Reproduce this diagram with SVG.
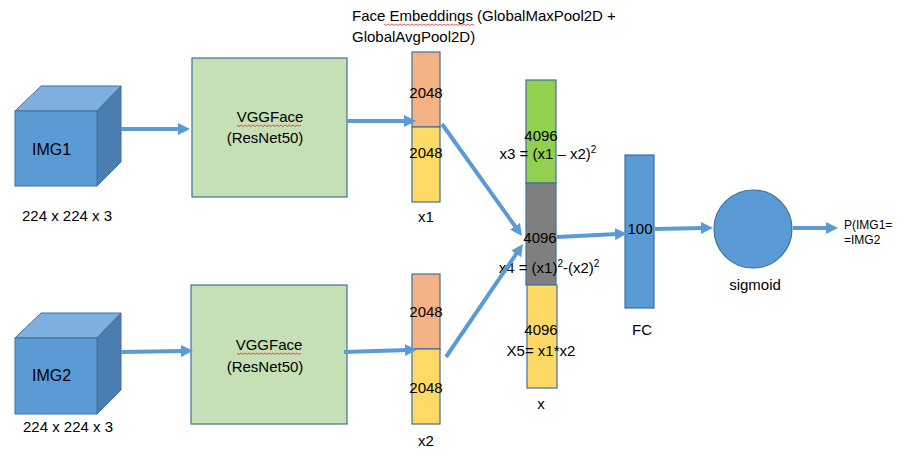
<svg xmlns="http://www.w3.org/2000/svg" width="924" height="471" viewBox="0 0 924 471">
<style>
text{font-family:"Liberation Sans",Arial,sans-serif;font-size:15px;fill:#000}
.c{text-anchor:middle}
.front{fill:#5B9BD5;stroke:#41719C;stroke-width:1}
.top{fill:#7EAFDE;stroke:#41719C;stroke-width:1}
.side{fill:#4A7DB0;stroke:#41719C;stroke-width:1}
.vgg{fill:#C5E0B4;stroke:#41719C;stroke-width:1.2}
.or{fill:#F4B183;stroke:#41719C;stroke-width:1.2}
.ye{fill:#FFD966;stroke:#41719C;stroke-width:1.2}
.gr{fill:#92D050;stroke:#41719C;stroke-width:1.2}
.gy{fill:#7F7F7F;stroke:#41719C;stroke-width:1.2}
.bl{fill:#5B9BD5;stroke:#41719C;stroke-width:1.2}
.arr{stroke:#5B9BD5;stroke-width:4;fill:none;marker-end:url(#ah)}
.sq{stroke:#E03030;stroke-width:0.8;fill:none}
</style>
<defs>
<marker id="ah" markerUnits="userSpaceOnUse" markerWidth="12" markerHeight="12" refX="3" refY="6" orient="auto">
<path d="M0,0 L12,6 L0,12 z" fill="#5B9BD5"/>
</marker>
</defs>
<rect width="924" height="471" fill="#fff"/>

<g id="img1">
<polygon class="top" points="15,111 41,86 121,86 97,111"/>
<polygon class="side" points="97,111 121,86 121,162 97,186"/>
<rect class="front" x="15" y="111" width="82" height="75"/>
<text x="32" y="155" style="font-size:16px">IMG1</text>
<text x="22" y="221">224 x 224 x 3</text>
</g>

<g id="img2">
<polygon class="top" points="15,338 41,313 121,313 97,338"/>
<polygon class="side" points="97,338 121,313 121,390 97,414"/>
<rect class="front" x="15" y="338" width="82" height="76"/>
<text x="32" y="381" style="font-size:16px">IMG2</text>
<text x="23" y="432">224 x 224 x 3</text>
</g>

<g id="vgg1">
<rect class="vgg" x="192" y="58" width="155" height="139"/>
<text class="c" x="270" y="122">VGGFace</text>
<path class="sq" d="M237,125 l2,1.5 l2,-1.5 l2,1.5 l2,-1.5 l2,1.5 l2,-1.5 l2,1.5 l2,-1.5 l2,1.5 l2,-1.5 l2,1.5 l2,-1.5 l2,1.5 l2,-1.5 l2,1.5 l2,-1.5 l2,1.5 l2,-1.5 l2,1.5 l2,-1.5 l2,1.5 l2,-1.5 l2,1.5 l2,-1.5 l2,1.5 l2,-1.5 l2,1.5 l2,-1.5 l2,1.5 l2,-1.5 l2,1.5 l2,-1.5"/>
<text class="c" x="265" y="143">(ResNet50)</text>
</g>

<g id="vgg2">
<rect class="vgg" x="191" y="285" width="156" height="139"/>
<text class="c" x="269" y="350">VGGFace</text>
<path class="sq" d="M237,353 l2,1.5 l2,-1.5 l2,1.5 l2,-1.5 l2,1.5 l2,-1.5 l2,1.5 l2,-1.5 l2,1.5 l2,-1.5 l2,1.5 l2,-1.5 l2,1.5 l2,-1.5 l2,1.5 l2,-1.5 l2,1.5 l2,-1.5 l2,1.5 l2,-1.5 l2,1.5 l2,-1.5 l2,1.5 l2,-1.5 l2,1.5 l2,-1.5 l2,1.5 l2,-1.5 l2,1.5 l2,-1.5 l2,1.5 l2,-1.5"/>
<text class="c" x="265" y="372">(ResNet50)</text>
</g>

<g id="title">
<text x="352" y="21">Face Embeddings (GlobalMaxPool2D +</text>
<path class="sq" d="M384,24 l2,1.5 l2,-1.5 l2,1.5 l2,-1.5 l2,1.5 l2,-1.5 l2,1.5 l2,-1.5 l2,1.5 l2,-1.5 l2,1.5 l2,-1.5 l2,1.5 l2,-1.5 l2,1.5 l2,-1.5 l2,1.5 l2,-1.5 l2,1.5 l2,-1.5 l2,1.5 l2,-1.5 l2,1.5 l2,-1.5 l2,1.5 l2,-1.5 l2,1.5 l2,-1.5 l2,1.5 l2,-1.5 l2,1.5 l2,-1.5 l2,1.5 l2,-1.5 l2,1.5 l2,-1.5 l2,1.5 l2,-1.5 l2,1.5 l2,-1.5 l2,1.5 l2,-1.5 l2,1.5 l2,-1.5 l2,1.5"/>
<text x="352" y="42">GlobalAvgPool2D)</text>
</g>

<g id="x1">
<rect class="or" x="412" y="52" width="28" height="75"/>
<rect class="ye" x="412" y="127" width="28" height="75"/>
<text class="c" x="426" y="98">2048</text>
<text class="c" x="426" y="158">2048</text>
<text class="c" x="426" y="222">x1</text>
</g>

<g id="x2">
<rect class="or" x="412" y="274" width="28" height="75"/>
<rect class="ye" x="412" y="349" width="28" height="75"/>
<text class="c" x="426" y="317">2048</text>
<text class="c" x="426" y="393">2048</text>
<text class="c" x="426" y="446">x2</text>
</g>

<g id="x">
<rect class="gr" x="526" y="80" width="30" height="103"/>
<rect class="gy" x="526" y="183" width="30" height="102"/>
<rect class="ye" x="527" y="285" width="30" height="103"/>
<text class="c" x="541" y="141">4096</text>
<text class="c" x="548" y="159">x3 = (x1 – x2)<tspan dy="-6" style="font-size:10px">2</tspan></text>
<text class="c" x="540" y="243">4096</text>
<text class="c" x="549" y="273">x4 = (x1)<tspan dy="-6" style="font-size:10px">2</tspan><tspan dy="6">-(x2)</tspan><tspan dy="-6" style="font-size:10px">2</tspan></text>
<text class="c" x="541" y="335">4096</text>
<text class="c" x="541" y="356">X5= x1*x2</text>
<text class="c" x="541" y="409">x</text>
</g>

<g id="fc">
<rect class="bl" x="625" y="155" width="29" height="153"/>
<text class="c" x="640" y="234">100</text>
<text class="c" x="642" y="335">FC</text>
</g>

<g id="sigmoid">
<circle class="bl" cx="753" cy="229" r="39"/>
<text class="c" x="755" y="290">sigmoid</text>
</g>

<g id="output">
<text x="844" y="229" style="font-size:12px">P(IMG1=</text>
<text x="844" y="244" style="font-size:12px">=IMG2</text>
</g>

<g id="connectors">
<line class="arr" x1="121" y1="129" x2="181" y2="129"/>
<line class="arr" x1="121" y1="352" x2="184" y2="351"/>
<line class="arr" x1="347" y1="121" x2="407" y2="121"/>
<line class="arr" x1="344" y1="352" x2="408" y2="350"/>
<line class="arr" x1="442" y1="124" x2="516.8" y2="228.7"/>
<line class="arr" x1="446" y1="357" x2="517.9" y2="251.4"/>
<line class="arr" x1="557" y1="237" x2="618" y2="234"/>
<line class="arr" x1="655" y1="229" x2="704" y2="228"/>
<line class="arr" x1="793" y1="228" x2="829" y2="228"/>
</g>
</svg>
